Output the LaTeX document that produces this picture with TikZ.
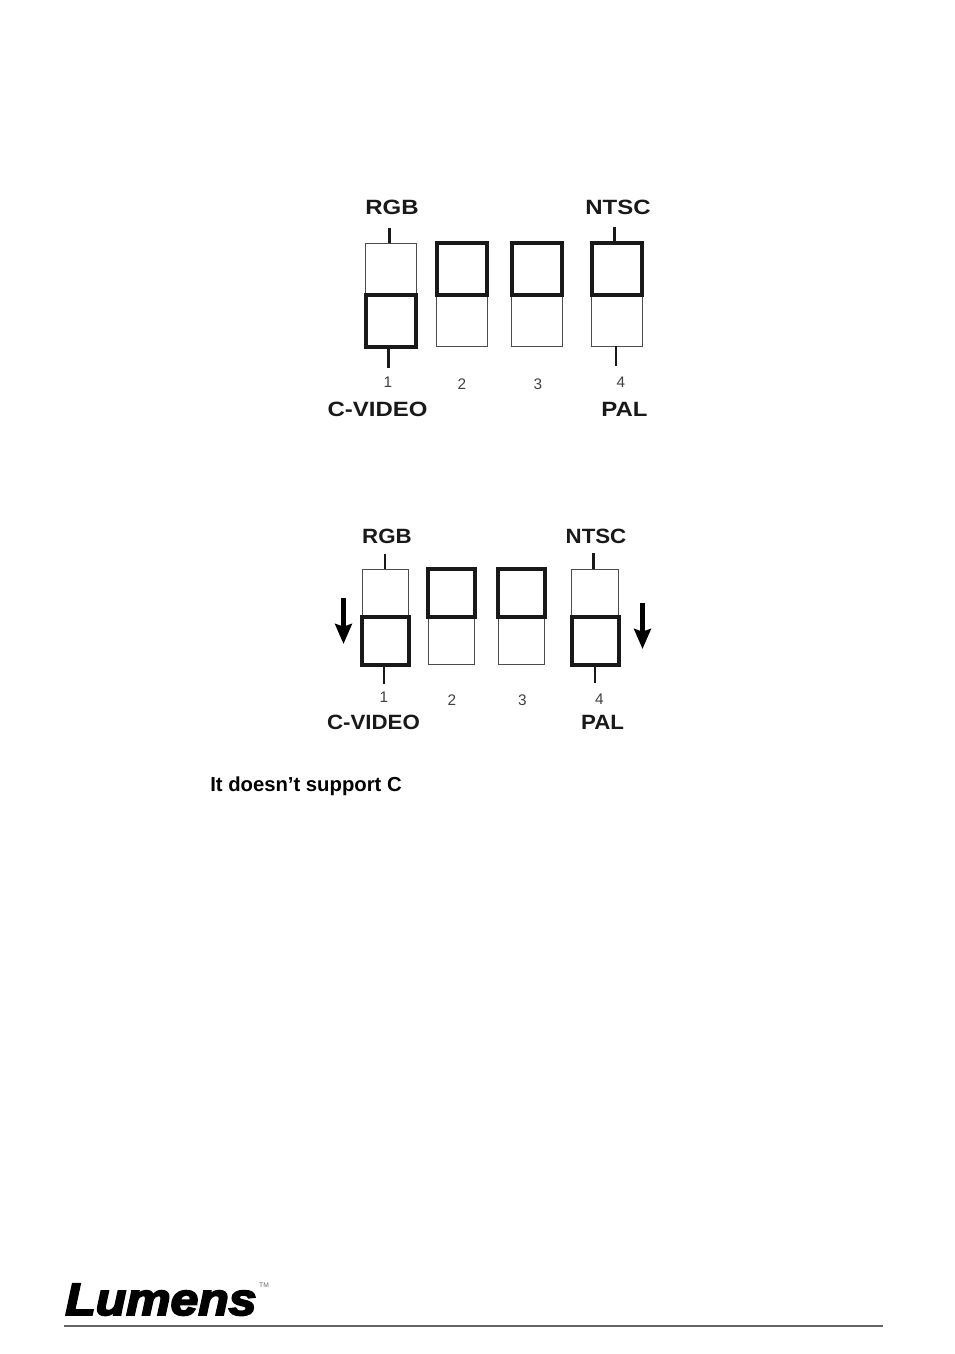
\documentclass[tikz,border=0pt]{standalone}
\usepackage{fontspec}
\setmainfont{Liberation Sans}
\newfontfamily\logofont[FakeBold=4]{Liberation Sans Bold Italic}
\usetikzlibrary{arrows.meta, positioning}
\tikzset{
    thinbox/.style={draw=black!70, line width=0.75pt, inner sep=0pt, outer sep=0pt},
    thickbox/.style={draw=black!90, fill=white, line width=3pt, inner sep=0pt, outer sep=0pt},
    biglabel/.style={font=\bfseries\fontsize{15.5pt}{16pt}\selectfont, text=black!90, inner sep=0pt, xscale=1.16},
    smalllabel/.style={font=\fontsize{11.5pt}{12pt}\selectfont, text=black!75, inner sep=0pt},
    tick/.style={draw=black!90, line width=1.6pt},
    movearrow/.style={draw=black, line width=3.8pt, -{Stealth[length=15pt, width=12.5pt, inset=2pt]}},
}

\begin{document}
\begin{tikzpicture}[x=0.75pt, y=-0.75pt]
    \useasboundingbox (0,0) rectangle (954,1354);

    % upper switch
    \begin{scope}[thinbox/.append style={minimum width=38.25pt, minimum height=77.25pt},
                  thickbox/.append style={minimum width=37.5pt, minimum height=39pt}]
        \node [thinbox] (up_thin1) at (390.5,294.5) {};
        \node [thinbox] (up_thin2) at (461.5,294.5) {};
        \node [thinbox] (up_thin3) at (537,294.5) {};
        \node [thinbox] (up_thin4) at (616.5,294.5) {};
        \node [thickbox] (up_knob1) at (390.5,320.5) {};
        \node [thickbox] (up_knob2) at (461.5,269) {};
        \node [thickbox] (up_knob3) at (537,269) {};
        \node [thickbox] (up_knob4) at (616.5,269) {};
    \end{scope}

    \node [biglabel] (up_rgb) at (392,207.5) {RGB};
    \node [biglabel] (up_ntsc) at (618,207.5) {NTSC};
    \node [biglabel] (up_cvideo) at (377.5,409) {C-VIDEO};
    \node [biglabel] (up_pal) at (624.5,409) {PAL};
    \node [smalllabel] (up_num1) at (388,382) {1};
    \node [smalllabel] (up_num2) at (462,384) {2};
    \node [smalllabel] (up_num3) at (538,384) {3};
    \node [smalllabel] (up_num4) at (621,382.5) {4};

    \coordinate (up_rgb_end) at (389.5,228);
    \coordinate (up_ntsc_end) at (614.5,227);
    \coordinate (up_cvideo_end) at (388.5,368);
    \coordinate (up_pal_end) at (616,366);
    \draw [tick] (up_rgb_end) -- (up_rgb_end |- up_thin1.north);
    \draw [tick] (up_ntsc_end) -- (up_ntsc_end |- up_knob4.north);
    \draw [tick] (up_cvideo_end) -- (up_cvideo_end |- up_knob1.south);
    \draw [tick] (up_pal_end) -- (up_pal_end |- up_thin4.south);

    % lower switch
    \begin{scope}[thinbox/.append style={minimum width=35pt, minimum height=71.25pt},
                  thickbox/.append style={minimum width=35.25pt, minimum height=36pt}]
        \node [thinbox] (low_thin1) at (385.5,616.5) {};
        \node [thinbox] (low_thin2) at (451.5,616.5) {};
        \node [thinbox] (low_thin3) at (521.5,616.5) {};
        \node [thinbox] (low_thin4) at (595,616.5) {};
        \node [thickbox] (low_knob1) at (385.5,641) {};
        \node [thickbox] (low_knob2) at (451.5,592.5) {};
        \node [thickbox] (low_knob3) at (521.5,592.5) {};
        \node [thickbox] (low_knob4) at (595,640.5) {};
    \end{scope}

    \node [biglabel, xscale=0.93] (low_rgb) at (387,536) {RGB};
    \node [biglabel, xscale=0.93] (low_ntsc) at (596,536) {NTSC};
    \node [biglabel, xscale=0.93] (low_cvideo) at (373.5,722) {C-VIDEO};
    \node [biglabel, xscale=0.93] (low_pal) at (602.5,722) {PAL};
    \node [smalllabel] (low_num1) at (384,697) {1};
    \node [smalllabel] (low_num2) at (452,700) {2};
    \node [smalllabel] (low_num3) at (522.5,700) {3};
    \node [smalllabel] (low_num4) at (599.5,699) {4};

    \coordinate (low_rgb_end) at (385,554);
    \coordinate (low_ntsc_end) at (593.5,553);
    \coordinate (low_cvideo_end) at (384,684);
    \coordinate (low_pal_end) at (595,683);
    \draw [tick] (low_rgb_end) -- (low_rgb_end |- low_thin1.north);
    \draw [tick] (low_ntsc_end) -- (low_ntsc_end |- low_thin4.north);
    \draw [tick] (low_cvideo_end) -- (low_cvideo_end |- low_knob1.south);
    \draw [tick] (low_pal_end) -- (low_pal_end |- low_knob4.south);

    % arrows
    \coordinate (arrow_left_a) at (343.5,598);
    \coordinate (arrow_left_b) at (343.5,644);
    \coordinate (arrow_right_a) at (642.5,603);
    \coordinate (arrow_right_b) at (642.5,649);
    \draw [movearrow] (arrow_left_a) -- (arrow_left_b);
    \draw [movearrow] (arrow_right_a) -- (arrow_right_b);

    % note
    \node [anchor=base west, inner sep=0pt, font=\bfseries\fontsize{15.2pt}{16pt}\selectfont] (note) at (210,791) {It doesn’t support C};

    % logo
    \node [anchor=base west, inner sep=0pt, xscale=1.1, font=\logofont\fontsize{34pt}{36pt}\selectfont] (logo) at (65,1315) {Lumens};
    \node [anchor=center, inner sep=0pt, text=black!60, font=\fontsize{5pt}{6pt}\selectfont] (logo_tm) at (264,1285) {TM};
    \coordinate (rule_a) at (64,1326);
    \coordinate (rule_b) at (883,1326);
    \draw [draw=black!60, line width=1.1pt] (rule_a) -- (rule_b);
\end{tikzpicture}
\end{document}
